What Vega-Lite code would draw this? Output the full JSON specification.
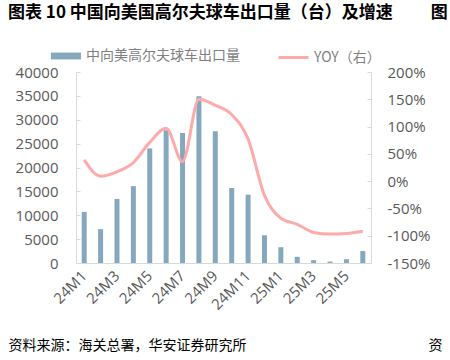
{
  "$schema": "https://vega.github.io/schema/vega-lite/v6.json",
  "width": 295,
  "height": 191,
  "autosize": {"type": "none"},
  "padding": {"left": 76, "top": 72, "right": 79, "bottom": 97},
  "background": "white",
  "config": {"font": "Open Sans, Noto Sans CJK SC", "view": {"stroke": null}},
  "title": {
    "text": "图表 10 中国向美国高尔夫球车出口量（台）及增速　　 图",
    "anchor": "start",
    "frame": "group",
    "dx": -68,
    "offset": 11,
    "baseline": "middle",
    "fontSize": 17,
    "fontWeight": "bold",
    "color": "#000000",
    "font": "Noto Sans CJK SC"
  },
  "data": {
    "values": [
      {"month": "24M1", "qty": 10700, "yoy": 39},
      {"month": "24M2", "qty": 7100, "yoy": 9},
      {"month": "24M3", "qty": 13400, "yoy": 17},
      {"month": "24M4", "qty": 16100, "yoy": 34},
      {"month": "24M5", "qty": 24000, "yoy": 71},
      {"month": "24M6", "qty": 27800, "yoy": 97},
      {"month": "24M7", "qty": 27200, "yoy": 36},
      {"month": "24M8", "qty": 34900, "yoy": 150},
      {"month": "24M9", "qty": 27600, "yoy": 139},
      {"month": "24M10", "qty": 15700, "yoy": 122},
      {"month": "24M11", "qty": 14300, "yoy": 77},
      {"month": "24M12", "qty": 5800, "yoy": -26},
      {"month": "25M1", "qty": 3300, "yoy": -68},
      {"month": "25M2", "qty": 1300, "yoy": -79},
      {"month": "25M3", "qty": 600, "yoy": -94},
      {"month": "25M4", "qty": 300, "yoy": -97},
      {"month": "25M5", "qty": 800, "yoy": -96},
      {"month": "25M6", "qty": 2500, "yoy": -92}
    ]
  },
  "encoding": {
    "x": {
      "field": "month",
      "type": "ordinal",
      "sort": null,
      "scale": {"paddingInner": 0, "paddingOuter": 0},
      "axis": {
        "values": ["24M1", "24M3", "24M5", "24M7", "24M9", "24M11", "25M1", "25M3", "25M5"],
        "labelAngle": -45,
        "labelAlign": "right",
        "labelBaseline": "middle",
        "labelPadding": 10,
        "labelColor": "#595959",
        "labelFontSize": 15,
        "ticks": false,
        "domainColor": "#D9D9D9",
        "title": "资料来源：海关总署，华安证券研究所　　　　　　　　　　　　　资",
        "titleX": -68,
        "titleY": 82,
        "titleAlign": "left",
        "titleBaseline": "middle",
        "titleAngle": 0,
        "titleFont": "Noto Sans CJK SC",
        "titleFontSize": 14,
        "titleFontWeight": "normal",
        "titleColor": "#000000"
      }
    }
  },
  "layer": [
    {
      "mark": {"type": "bar", "size": 5},
      "encoding": {
        "y": {
          "field": "qty",
          "type": "quantitative",
          "scale": {"domain": [0, 40000], "nice": false},
          "axis": {
            "orient": "left",
            "title": null,
            "values": [0, 5000, 10000, 15000, 20000, 25000, 30000, 35000, 40000],
            "format": "d",
            "grid": false,
            "tickSize": -4,
            "tickColor": "#D9D9D9",
            "domainColor": "#D9D9D9",
            "labelPadding": 22,
            "labelColor": "#595959",
            "labelFontSize": 15
          }
        },
        "fill": {
          "datum": "中向美高尔夫球车出口量",
          "scale": {"range": ["#86A8BF"]},
          "legend": {
            "orient": "none",
            "legendX": -25,
            "legendY": -31,
            "title": null,
            "padding": 0,
            "symbolType": "M-1,-0.23H1V0.23H-1Z",
            "symbolSize": 900,
            "symbolStrokeWidth": 0,
            "labelOffset": 5,
            "labelFontSize": 14,
            "labelColor": "#7F7F7F",
            "labelFont": "Noto Sans CJK SC"
          }
        }
      }
    },
    {
      "mark": {"type": "line", "interpolate": "monotone", "strokeWidth": 3},
      "encoding": {
        "y": {
          "field": "yoy",
          "type": "quantitative",
          "scale": {"domain": [-150, 200], "nice": false},
          "axis": {
            "orient": "right",
            "title": null,
            "values": [-150, -100, -50, 0, 50, 100, 150, 200],
            "labelExpr": "datum.value + '%'",
            "grid": false,
            "tickSize": -4,
            "tickColor": "#D9D9D9",
            "domainColor": "#D9D9D9",
            "labelPadding": 20,
            "labelColor": "#595959",
            "labelFontSize": 15
          }
        },
        "stroke": {
          "datum": "YOY（右）",
          "scale": {"range": ["#FFAAAA"]},
          "legend": {
            "orient": "none",
            "legendX": 201,
            "legendY": -31,
            "title": null,
            "padding": 0,
            "symbolType": "stroke",
            "symbolSize": 900,
            "symbolStrokeWidth": 3,
            "labelOffset": 4,
            "labelFontSize": 14,
            "labelColor": "#7F7F7F",
            "labelFont": "Noto Sans CJK SC"
          }
        }
      }
    }
  ],
  "resolve": {"scale": {"y": "independent", "fill": "independent", "stroke": "independent"}}
}
